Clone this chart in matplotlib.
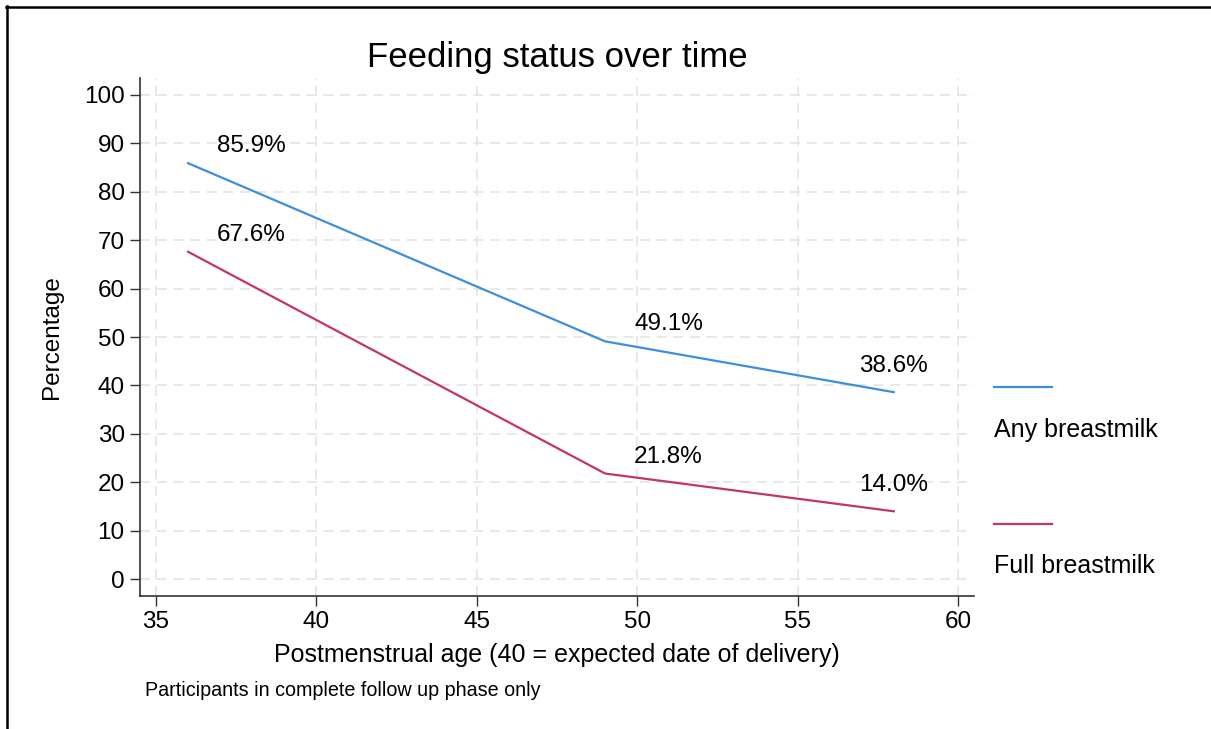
import matplotlib
matplotlib.use("Agg")
import matplotlib.pyplot as plt
from matplotlib.lines import Line2D

plt.rcParams['font.family'] = ['Liberation Sans', 'DejaVu Sans']

age = [36, 49, 58]
any_bm = [85.9, 49.1, 38.6]
full_bm = [67.6, 21.8, 14.0]
series_names = ["Any breastmilk", "Full breastmilk"]
xticks = [35, 40, 45, 50, 55, 60]
yticks = list(range(0, 101, 10))

blue = "#3d8fdd"
red = "#c2356b"

fig = plt.figure(figsize=(12.11, 7.29), dpi=100)
W, H = 1211, 729
ax = fig.add_axes([140 / W, 1 - 596 / H, (974 - 140) / W, (596 - 78) / H])

ax.plot(age, any_bm, color=blue, lw=1.6)
ax.plot(age, full_bm, color=red, lw=1.6)

for xs, ys in [(age, any_bm), (age, full_bm)]:
    n = len(xs)
    for i, (x, y) in enumerate(zip(xs, ys)):
        if i == n - 1:
            off, ha = (0, 26), 'center'
        else:
            off, ha = (29, 17), 'left'
        ax.annotate(f"{y:.1f}%", (x, y), xytext=off, textcoords='offset pixels',
                    ha=ha, va='center', fontsize=17.5)

ax.set_xlim(34.5, 60.5)
ax.set_ylim(-3.5, 103.5)
ax.set_xticks(xticks)
ax.set_yticks(yticks)
ax.tick_params(axis='both', labelsize=17.5, length=7, width=1, color='#333333', direction='out', pad=4)
ax.set_yticklabels([str(t) for t in yticks], rotation=0)
for s in ['top', 'right']:
    ax.spines[s].set_visible(False)
for s in ['left', 'bottom']:
    ax.spines[s].set_color('#333333')
    ax.spines[s].set_linewidth(1.2)
ax.grid(True, color='#e4e4e4', linestyle=(0, (6, 4)), lw=1.2)
ax.set_axisbelow(True)

ax.set_xlabel("Postmenstrual age (40 = expected date of delivery)", fontsize=18, labelpad=7)
ax.set_ylabel("Percentage", fontsize=17.5, labelpad=15)
ax.set_title("Feeding status over time", fontsize=25, pad=8)

fig.text(145 / W, 1 - 690 / H, "Participants in complete follow up phase only", fontsize=14.2,
         ha='left', va='center')

# legend (manual, figure coords)
for yline, ytext, col, name in [(387, 430, blue, series_names[0]), (524, 566, red, series_names[1])]:
    fig.add_artist(Line2D([994 / W, 1052 / W], [1 - yline / H, 1 - yline / H], color=col, lw=1.6))
    fig.text(994 / W, 1 - ytext / H, name, fontsize=18, ha='left', va='center')

# frame (top and left edges)
fig.add_artist(Line2D([6 / W, 1.0], [1 - 6.5 / H, 1 - 6.5 / H], color='black', lw=1.8))
fig.add_artist(Line2D([6.5 / W, 6.5 / W], [0, 1 - 6 / H], color='black', lw=1.8))

fig.savefig("out.png", dpi=100)
